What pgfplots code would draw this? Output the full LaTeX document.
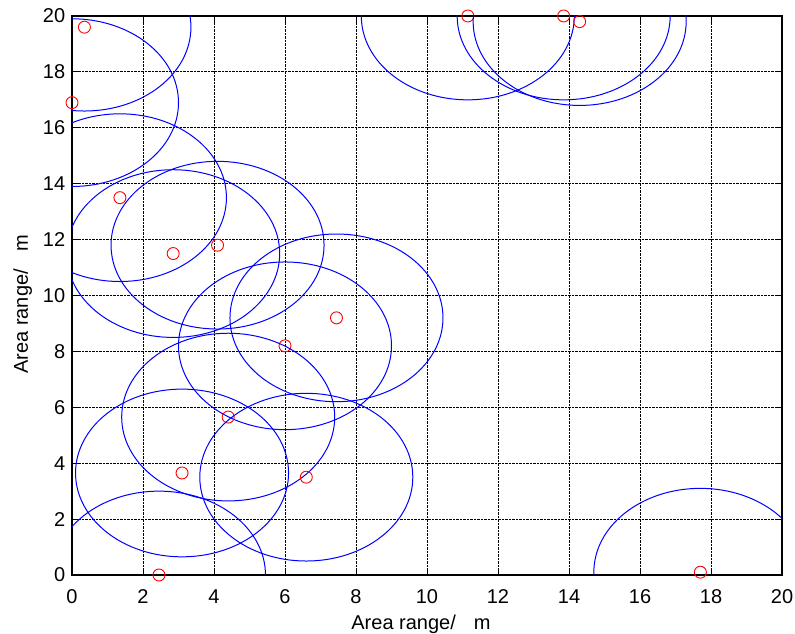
\documentclass[border=0pt]{standalone}
\usepackage{pgfplots}
\pgfplotsset{compat=1.18}
\usepackage{fontspec}
\setmainfont{Liberation Sans}

% sensor positions (m), sensing radius 3 m
\pgfplotstableread{
x     y
0.35  19.6
0.0   16.9
1.35  13.5
2.85  11.5
4.1   11.8
7.45  9.2
6.0   8.2
4.4   5.65
3.1   3.65
6.6   3.5
2.45  0.0
11.15 20.0
13.85 20.0
14.3  19.8
17.7  0.1
}\nodes

\def\xu{35.5pt}   % 710pt / 20
\def\yu{27.95pt}  % 559pt / 20
\def\rs{3}

\begin{document}
\fontsize{20pt}{24pt}\selectfont
\begin{tikzpicture}
\begin{axis}[
    scale only axis,
    width=710pt, height=559pt,
    xmin=0, xmax=20, ymin=0, ymax=20,
    xtick={0,2,...,20}, ytick={0,2,...,20},
    grid=major,
    grid style={black, densely dotted, line width=0.8pt},
    axis line style={black, line width=1.2pt},
    tick style={black, line width=0.8pt},
    tick align=inside,
    major tick length=6pt,
    xlabel={Area range/\hspace{18pt}m},
    ylabel={Area range/\hspace{18pt}m},
    xlabel style={at={(axis description cs:0.4915,0)}, anchor=base, yshift=-55pt},
    ylabel style={at={(axis description cs:-0.062,0.4848)}, anchor=base},
    tick label style={font=\fontsize{20pt}{24pt}\selectfont},
    label style={font=\fontsize{20pt}{24pt}\selectfont},
    /pgf/number format/assume math mode=true,
    xticklabel style={yshift=-8pt},
]
% coverage circles, clipped to the field
\addplot[
    scatter, only marks, mark=o, red, mark size=6pt,
    mark options={line width=0.9pt},
    visualization depends on={\thisrow{x} \as \px},
    visualization depends on={\thisrow{y} \as \py},
    scatter/@pre marker code/.code={
        \pgfscope
        \pgfpathrectanglecorners{\pgfpoint{-\px*\xu}{-\py*\yu}}{\pgfpoint{(20-\px)*\xu}{(20-\py)*\yu}}
        \pgfusepath{clip}
        \draw[blue, line width=1pt] (0,0) ellipse [x radius={\rs*\xu}, y radius={\rs*\yu}];
        \endpgfscope
    },
    scatter/@post marker code/.code={},
] table {\nodes};
\end{axis}
\pgfresetboundingbox
\useasboundingbox ([xshift=-72pt,yshift=-59pt]current axis.south west) rectangle ([xshift=13pt,yshift=16pt]current axis.north east);
\end{tikzpicture}
\end{document}
